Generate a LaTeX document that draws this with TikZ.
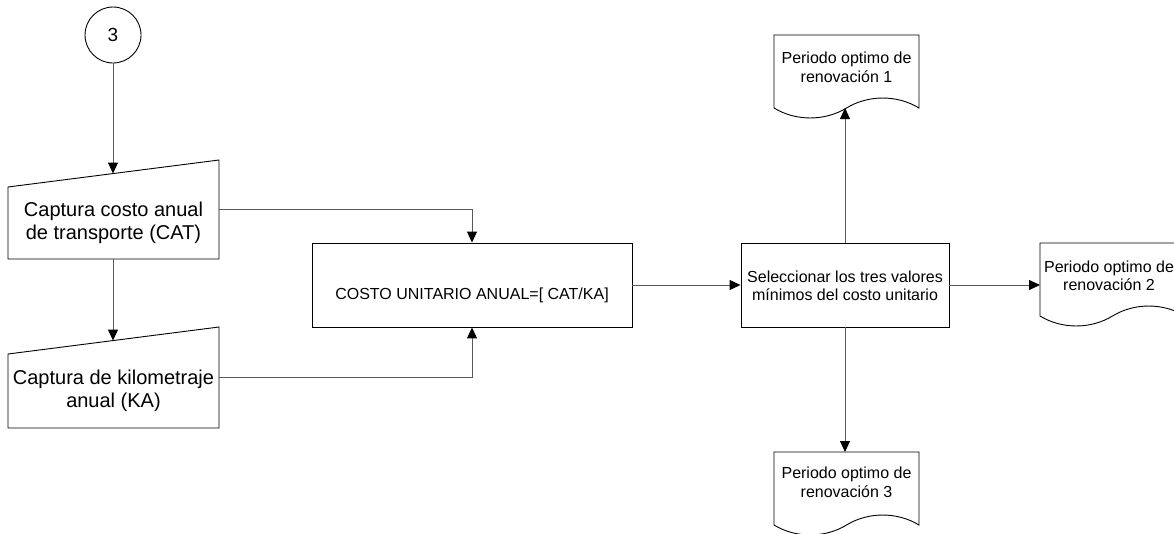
\documentclass[tikz,border=0pt]{standalone}
\usepackage{fontspec}
\setmainfont{Liberation Sans}
\usetikzlibrary{arrows.meta}
\begin{document}
\begin{tikzpicture}[x=1pt,y=-1pt,
  outline/.style={draw=black,line width=0.9pt},
  conn/.style={draw=black!65,line width=1pt,-{Triangle[length=11pt,width=10pt,color=black]}},
  big/.style={font=\fontsize{20}{23}\selectfont, align=center, inner sep=0pt},
  small/.style={font=\fontsize{16}{18.5}\selectfont, align=center, inner sep=0pt},
  procbox/.style={outline, rectangle, inner sep=0pt},
]
\clip (0,0) rectangle (1174,533);
\fill[white] (0,0) rectangle (1174,533);

% off-page connector
\node[outline, circle, minimum size=56pt, inner sep=0pt, font=\fontsize{19}{22}\selectfont] (c3) at (113,35) {3};

% manual input 1
\draw[outline] (8,187) -- (219,160) -- (219,259) -- (8,259) -- cycle;
\node[big] (in1) at (113.5,223) {Captura costo anual\\de transporte (CAT)};
\coordinate (in1top) at (113,173.5);
\coordinate (in1bot) at (113,259);
\coordinate (in1r) at (219,209.5);

% manual input 2
\draw[outline] (8,354) -- (219,327) -- (219,428) -- (8,428) -- cycle;
\node[big] (in2) at (113.5,391) {Captura de kilometraje\\anual (KA)};
\coordinate (in2top) at (113,340.5);
\coordinate (in2r) at (219,377.5);

% processes
\node[procbox, minimum width=320pt, minimum height=84pt] (p) at (472,285) {};
\node[small, anchor=base] (pt) at (472,299) {COSTO UNITARIO ANUAL=[ CAT/KA]};

\node[procbox, minimum width=208pt, minimum height=84pt] (s) at (845,285) {};
\node[small] (st) at (845,286) {Seleccionar los tres valores\\mínimos del costo unitario};

% documents
\draw[outline] (774,35) -- (774,108) .. controls (795.75,121.3) and (824.75,121.3) .. (846.5,108) .. controls (868.25,94.7) and (897.25,94.7) .. (919,108) -- (919,35) -- cycle;
\node[small] (d1) at (846.5,67.5) {Periodo optimo de\\renovación 1};
\coordinate (d1in) at (845,108);

\draw[outline] (1040,243) -- (1040,316) .. controls (1061.75,329.3) and (1090.75,329.3) .. (1112.5,316) .. controls (1134.25,302.7) and (1163.25,302.7) .. (1185,316) -- (1185,243) -- cycle;
\node[small] (d2) at (1109,276) {Periodo optimo de\\renovación 2};
\coordinate (d2in) at (1040,285);

\draw[outline] (774,452) -- (774,525) .. controls (795.75,538.3) and (824.75,538.3) .. (846.5,525) .. controls (868.25,511.7) and (897.25,511.7) .. (919,525) -- (919,452) -- cycle;
\node[small] (d3) at (846.5,482.5) {Periodo optimo de\\renovación 3};
\coordinate (d3in) at (845,452);

% connectors
\draw[conn] (c3.south) -- (in1top);
\draw[conn] (in1bot) -- (in2top);
\draw[conn] (in1r) -| (p.north);
\draw[conn] (in2r) -| (p.south);
\draw[conn] (p.east) -- (s.west);
\draw[conn] (s.east) -- (d2in);
\draw[conn] (s.north) -- (d1in);
\draw[conn] (s.south) -- (d3in);
\end{tikzpicture}
\end{document}
